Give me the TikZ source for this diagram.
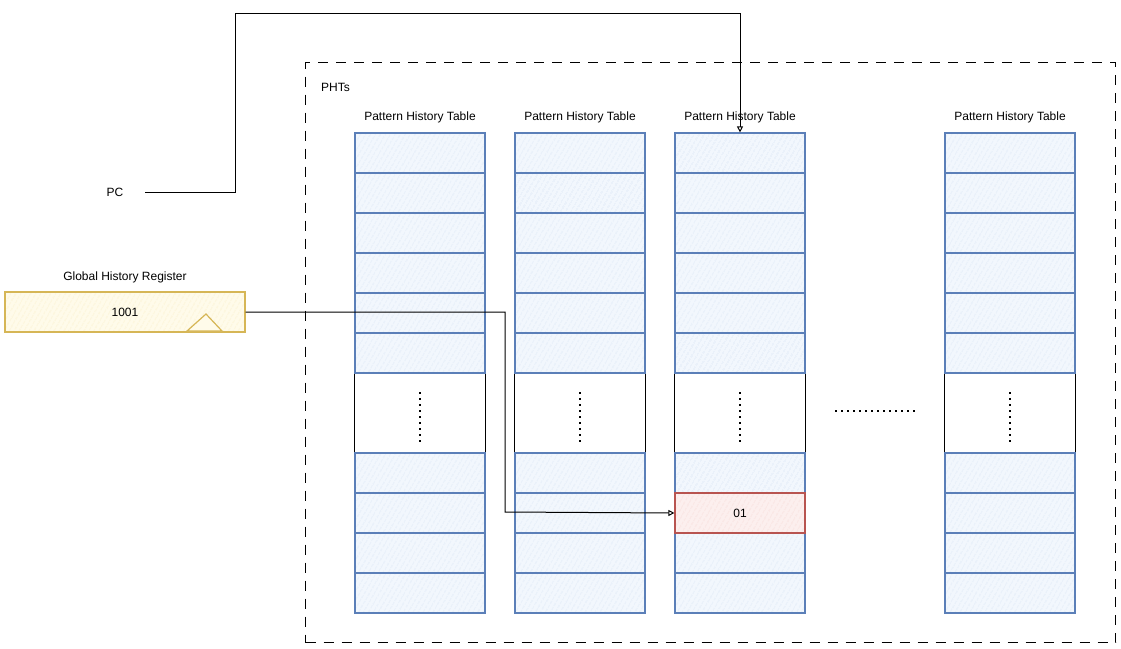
\documentclass[tikz,border=0pt]{standalone}
\usepackage{fontspec}
\setmainfont{Liberation Sans}
\usetikzlibrary{arrows.meta,patterns.meta}
\definecolor{bluefill}{HTML}{F2F7FD}
\definecolor{bluehatch}{HTML}{B8CFEC}
\definecolor{bluestroke}{HTML}{5B7FB8}
\definecolor{yellowfill}{HTML}{FFFBEA}
\definecolor{yellowhatch}{HTML}{F2DD9A}
\definecolor{yellowstroke}{HTML}{D6B656}
\definecolor{redfill}{HTML}{FCEFEE}
\definecolor{redhatch}{HTML}{EFB8B5}
\definecolor{redstroke}{HTML}{B85450}
\tikzset{
  x=1pt, y=-1pt,
  lbl/.style={font=\fontsize{12}{14}\selectfont, inner sep=0pt},
  cell/.style={line width=1.2pt, minimum width=130pt, minimum height=40pt, inner sep=0pt,
    preaction={fill=bluefill}, pattern={Lines[angle=60,distance=4pt,line width=0.4pt]}, pattern color=bluehatch,
    postaction={draw=bluestroke, line width=1.2pt},
    font=\fontsize{12}{14}\selectfont},
  redcell/.style={line width=1.2pt, minimum width=130pt, minimum height=40pt, inner sep=0pt,
    preaction={fill=redfill}, pattern={Lines[angle=60,distance=4pt,line width=0.4pt]}, pattern color=redhatch,
    postaction={draw=redstroke, line width=1.2pt},
    font=\fontsize{12}{14}\selectfont},
  ghrbox/.style={line width=1.2pt, minimum width=240pt, minimum height=40pt, inner sep=0pt,
    preaction={fill=yellowfill}, pattern={Lines[angle=60,distance=4pt,line width=0.4pt]}, pattern color=yellowhatch,
    postaction={draw=yellowstroke, line width=1.2pt},
    font=\fontsize{12}{14}\selectfont},
  container/.style={draw=black, line width=1.2pt, dash pattern=on 10pt off 8pt},
  conn/.style={draw=black, line width=1pt},
  arr/.style={conn, -{Triangle[open,length=6pt,width=6pt]}},
  dots/.style={draw=black, line width=2pt, dash pattern=on 2pt off 4pt},
}
\begin{document}
\begin{tikzpicture}
\useasboundingbox (0,0) rectangle (1121,648);
% container
\node[container, minimum width=810pt, minimum height=580pt, inner sep=0pt, anchor=north west] (phts) at (305,62) {};
\node[lbl, anchor=west] (phtslbl) at (321,87) {PHTs};
% tables
\foreach \c/\x in {1/420, 2/580, 3/740, 4/1010} {
  \node[lbl] (title\c) at (\x,117) {Pattern History Table};
  \node[minimum width=130pt, minimum height=80pt, inner sep=0pt] (gap\c) at (\x,413) {};
  \draw[line width=1.2pt] (gap\c.north west) -- (gap\c.south west);
  \draw[line width=1.2pt] (gap\c.north east) -- (gap\c.south east);
  \draw[dots] (\x,392) -- (\x,442);
  \foreach \r/\y in {1/153, 2/193, 3/233, 4/273, 5/313, 6/353, 7/473, 8/513, 9/553, 10/593} {
    \node[cell] (c\c r\r) at (\x,\y) {};
  }
}
% red cell
\node[redcell] (red) at (740,513) {01};
% horizontal dots
\coordinate (hd1) at (835,411);
\coordinate (hd2) at (918,411);
\draw[dots] (hd1) -- (hd2);
% GHR
\node[lbl] (ghrlbl) at (125,277) {Global History Register};
\node[ghrbox] (ghr) at (125,312) {1001};
\draw[yellowstroke, line width=1.2pt, fill=yellowfill] (187,331) -- (206,314) -- (222,331) -- cycle;
% PC
\node[lbl] (pc) at (115,192) {PC};
\coordinate (pcend) at (145,192);
\draw[arr] (pcend) -- (235,192) -- (235,13) -| (c3r1.north);
\draw[arr] (ghr.east) -- (505,312) -- (505,512) -- (red.west);
\end{tikzpicture}
\end{document}
